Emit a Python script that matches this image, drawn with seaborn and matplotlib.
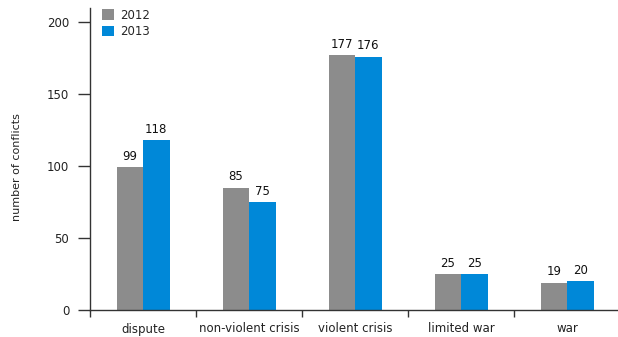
import matplotlib
matplotlib.use("Agg")
import matplotlib.pyplot as plt
import seaborn as sns
import pandas as pd
from matplotlib.ticker import FixedLocator

categories = ["dispute", "non-violent crisis", "violent crisis", "limited war", "war"]
years = ["2012", "2013"]
values_2012 = [99, 85, 177, 25, 19]
values_2013 = [118, 75, 176, 25, 20]
colors = ["#8c8c8c", "#0088d8"]

df = pd.DataFrame({
    "category": categories * 2,
    "year": [years[0]] * len(categories) + [years[1]] * len(categories),
    "count": values_2012 + values_2013,
})

sns.set_theme(style="white")
plt.rcParams["font.family"] = ["DejaVu Sans"]

fig = plt.figure(figsize=(6.18, 3.37), dpi=100)
ax = fig.add_axes([90 / 618, 1 - 310 / 337, 530 / 618, (310 - 7.6) / 337])

sns.barplot(data=df, x="category", y="count", hue="year", order=categories,
            hue_order=years, palette=colors, width=0.5, saturation=1,
            ax=ax, edgecolor="none", linewidth=0)

for cont in ax.containers:
    ax.bar_label(cont, fontsize=8.5, padding=3, color="#111111")

ax.set_xlim(-0.5, 4.5)
ax.set_ylim(0, 210)
ax.set_yticks([0, 50, 100, 150, 200])
ax.set_xlabel("")
ax.set_ylabel("number of conflicts", fontsize=8, color="#222222")
ax.yaxis.set_label_coords(-0.128, 0.473)

for side in ["top", "right"]:
    ax.spines[side].set_visible(False)
for side in ["left", "bottom"]:
    ax.spines[side].set_color("#333333")
    ax.spines[side].set_linewidth(1)

ax.tick_params(axis="y", which="major", direction="out", length=9, width=1,
               color="#333333", labelsize=8.5, labelcolor="#222222", pad=6, left=True)
ax.tick_params(axis="x", which="major", length=0, labelsize=8.5,
               labelcolor="#222222", pad=9)
ax.xaxis.set_minor_locator(FixedLocator([i - 0.5 for i in range(len(categories) + 1)]))
ax.tick_params(axis="x", which="minor", direction="out", length=5, width=1,
               color="#333333", bottom=True)

ax.legend(loc="upper left", bbox_to_anchor=(0.01, 1.02), frameon=False,
          fontsize=8.5, handlelength=1.0, handleheight=1.0, handletextpad=0.5,
          labelspacing=0.3, borderaxespad=0.2)

fig.savefig("out.png", dpi=100)
